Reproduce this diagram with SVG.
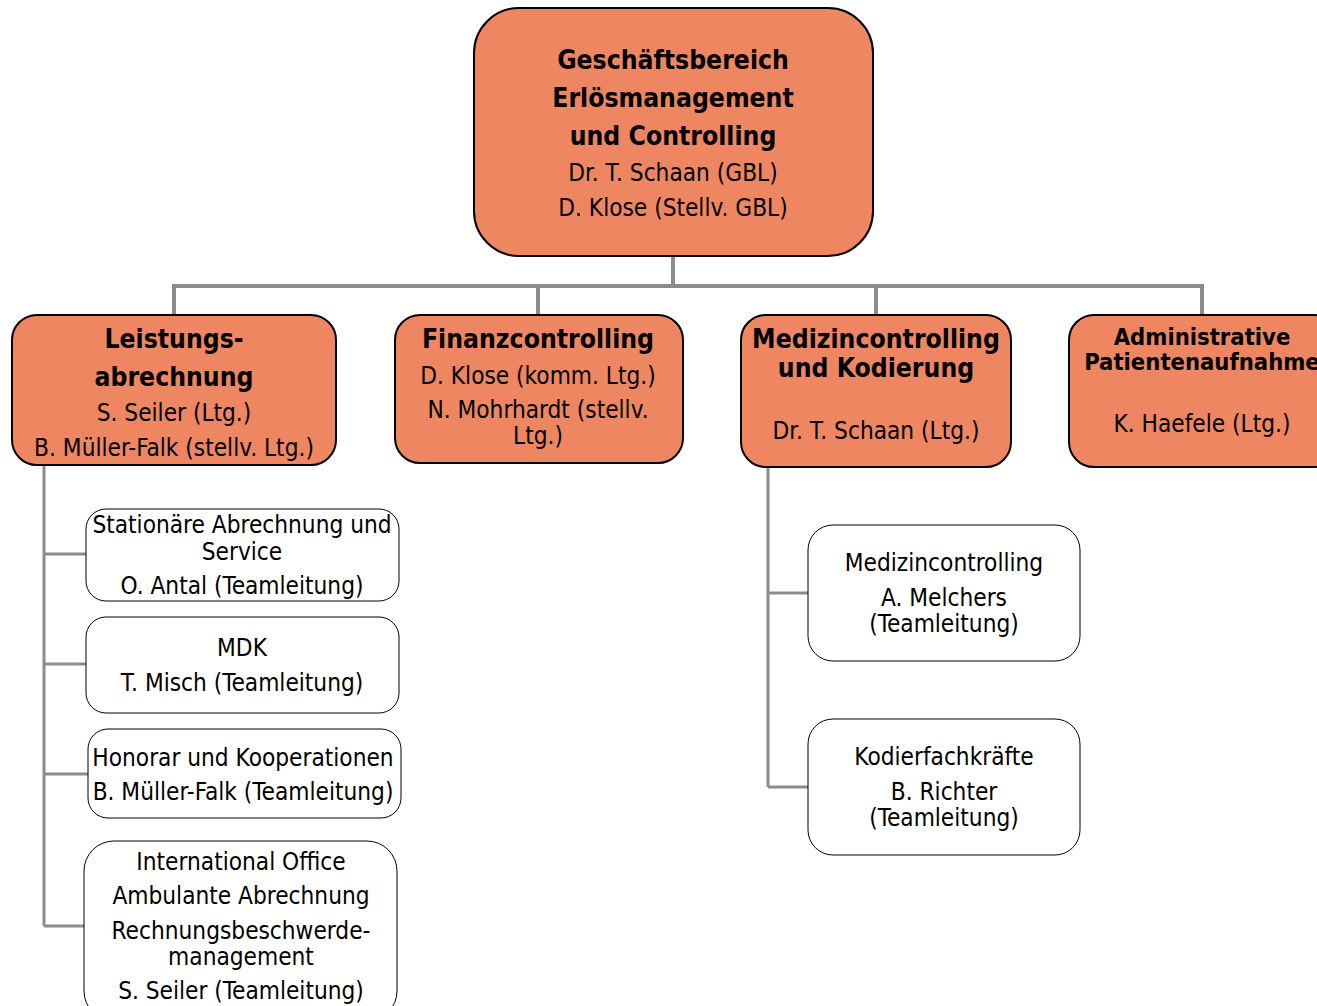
<svg xmlns="http://www.w3.org/2000/svg" width="1317" height="1006" viewBox="0 0 1317 1006">
<style>
.main{fill:#EE8662;stroke:#000;stroke-width:2}
.sub{fill:#fff;stroke:#000;stroke-width:1}
.c{fill:none;stroke:#8c8c8c;stroke-width:4}
.c2{fill:none;stroke:#8c8c8c;stroke-width:3}
text{font-family:"DejaVu Sans Condensed","DejaVu Sans",sans-serif;font-size:24.2px;text-anchor:middle;fill:#000;dominant-baseline:central}
.b{font-weight:bold;font-size:26.3px}
.bs{font-weight:bold;font-size:23.6px}
</style>
<rect width="1317" height="1006" fill="#fff"/>
<g id="connectors">
<path class="c" d="M673 256V286M174 286H1202M174 284V315M538 284V315M876 284V315M1202 284V315"/>
<path class="c2" d="M44 465V926M44 554H86M44 664H86M44 774H88M44 926H84"/>
<path class="c2" d="M768 467V787M768 593H808M768 787H808"/>
</g>
<g id="gb">
<rect class="main" x="474" y="8" width="399" height="248" rx="45"/>
<text class="b" x="673" y="60">Geschäftsbereich</text>
<text class="b" x="673" y="98">Erlösmanagement</text>
<text class="b" x="673" y="136">und Controlling</text>
<text x="673" y="173">Dr. T. Schaan (GBL)</text>
<text x="673" y="208">D. Klose (Stellv. GBL)</text>
</g>
<g id="leistung">
<rect class="main" x="12" y="315" width="324" height="150" rx="25"/>
<text class="b" x="174" y="339">Leistungs-</text>
<text class="b" x="174" y="377">abrechnung</text>
<text x="174" y="413">S. Seiler (Ltg.)</text>
<text x="174" y="448">B. Müller-Falk (stellv. Ltg.)</text>
</g>
<g id="finanz">
<rect class="main" x="395" y="315" width="288" height="148" rx="25"/>
<text class="b" x="538" y="339">Finanzcontrolling</text>
<text x="538" y="376">D. Klose (komm. Ltg.)</text>
<text x="538" y="410">N. Mohrhardt (stellv.</text>
<text x="538" y="436">Ltg.)</text>
</g>
<g id="medizin">
<rect class="main" x="741" y="315" width="270" height="152" rx="25"/>
<text class="b" x="876" y="339">Medizincontrolling</text>
<text class="b" x="876" y="368">und Kodierung</text>
<text x="876" y="431">Dr. T. Schaan (Ltg.)</text>
</g>
<g id="admin">
<rect class="main" x="1069" y="315" width="270" height="152" rx="25"/>
<text class="bs" x="1202" y="337">Administrative</text>
<text class="bs" x="1202" y="362">Patientenaufnahme</text>
<text x="1202" y="424">K. Haefele (Ltg.)</text>
</g>
<g id="stationaer">
<rect class="sub" x="86" y="509" width="313" height="92" rx="20"/>
<text x="242" y="525">Stationäre Abrechnung und</text>
<text x="242" y="552">Service</text>
<text x="242" y="586">O. Antal (Teamleitung)</text>
</g>
<g id="mdk">
<rect class="sub" x="86" y="617" width="313" height="96" rx="20"/>
<text x="242" y="648">MDK</text>
<text x="242" y="683">T. Misch (Teamleitung)</text>
</g>
<g id="honorar">
<rect class="sub" x="88" y="729" width="313" height="89" rx="20"/>
<text x="243" y="758">Honorar und Kooperationen</text>
<text x="243" y="792">B. Müller-Falk (Teamleitung)</text>
</g>
<g id="international">
<rect class="sub" x="84" y="841" width="313" height="180" rx="30"/>
<text x="241" y="862">International Office</text>
<text x="241" y="896">Ambulante Abrechnung</text>
<text x="241" y="931">Rechnungsbeschwerde-</text>
<text x="241" y="957">management</text>
<text x="241" y="991">S. Seiler (Teamleitung)</text>
</g>
<g id="medcontrolling">
<rect class="sub" x="808" y="525" width="272" height="136" rx="25"/>
<text x="944" y="563">Medizincontrolling</text>
<text x="944" y="598">A. Melchers</text>
<text x="944" y="624">(Teamleitung)</text>
</g>
<g id="kodier">
<rect class="sub" x="808" y="719" width="272" height="136" rx="25"/>
<text x="944" y="757">Kodierfachkräfte</text>
<text x="944" y="792">B. Richter</text>
<text x="944" y="818">(Teamleitung)</text>
</g>
</svg>
